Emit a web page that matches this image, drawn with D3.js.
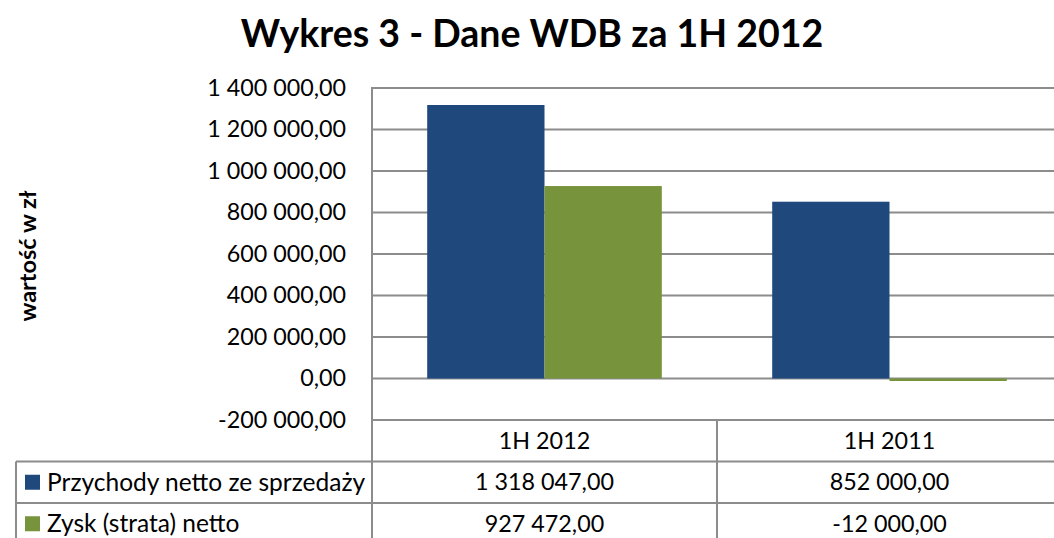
<!DOCTYPE html>
<html><head><meta charset="utf-8">
<script src="https://cdn.jsdelivr.net/npm/d3@7"></script>
<style>
html,body{margin:0;padding:0;background:#fff;}
svg{display:block;font-family:Lato, "Open Sans", sans-serif;}
</style></head>
<body>
<svg id="c" width="1054" height="538"></svg>
<script>
const categories = ["1H 2012", "1H 2011"];
const seriesNames = ["Przychody netto ze sprzedaży", "Zysk (strata) netto"];
const przychody = [1318047, 852000];
const zysk = [927472, -12000];
const yTicks = [-200000, 0, 200000, 400000, 600000, 800000, 1000000, 1200000, 1400000];
const colors = ["#1F497D", "#77933C"];
const chartTitle = "Wykres 3 - Dane WDB za 1H 2012";
const yTitle = "wartość w zł";

(function () {
const series = [przychody, zysk];
const svg = d3.select("#c");
const W = 1054, H = 538;
const pLeft = 372, pRight = 1062, pTop = 88, pBottom = 420;
const rowH = 41.5;
const tableLeft = 16;
const fs = 23.3;

const fmt = v => {
  const s = Math.abs(v).toFixed(2).split(".");
  const intPart = s[0].replace(/\B(?=(\d{3})+(?!\d))/g, " ");
  return (v < 0 ? "-" : "") + intPart + "," + s[1];
};

const y = d3.scaleLinear().domain([-200000, 1400000]).range([pBottom, pTop]);
const x = d3.scaleBand().domain(categories).range([pLeft, pRight]).paddingInner(0.32).paddingOuter(0.16);
const xs = d3.scaleBand().domain(d3.range(series.length)).range([0, x.bandwidth()]);

const grid = "#8c8c8c";

svg.append("g").selectAll("line").data(yTicks).join("line")
  .attr("x1", pLeft).attr("x2", W).attr("y1", d => y(d)).attr("y2", d => y(d))
  .attr("stroke", grid).attr("stroke-width", 2);

const yAxis = d3.axisLeft(y).tickValues(yTicks).tickFormat(fmt).tickSize(0).tickPadding(26);
const ga = svg.append("g").attr("transform", `translate(${pLeft},0)`).call(yAxis);
ga.select(".domain").remove();
ga.selectAll("text").attr("font-size", fs).attr("fill", "#000").attr("font-family", "Lato, 'Open Sans', sans-serif");

categories.forEach((c, ci) => {
  series.forEach((s, si) => {
    const v = s[ci];
    svg.append("rect")
      .attr("x", x(c) + xs(si))
      .attr("width", xs.bandwidth())
      .attr("y", y(Math.max(0, v)))
      .attr("height", Math.max(Math.abs(y(v) - y(0)), 1))
      .attr("fill", colors[si]);
  });
});

svg.append("line").attr("x1", pLeft).attr("x2", pLeft).attr("y1", pTop - 1).attr("y2", H)
  .attr("stroke", grid).attr("stroke-width", 2);

const tTop = pBottom;
const rows = [tTop + rowH, tTop + 2 * rowH];
svg.append("line").attr("x1", pLeft).attr("x2", W).attr("y1", tTop).attr("y2", tTop).attr("stroke", grid).attr("stroke-width", 2);
rows.forEach(r => {
  svg.append("line").attr("x1", tableLeft).attr("x2", W).attr("y1", r).attr("y2", r).attr("stroke", grid).attr("stroke-width", 2);
});
svg.append("line").attr("x1", tableLeft).attr("x2", tableLeft).attr("y1", rows[0]).attr("y2", H).attr("stroke", grid).attr("stroke-width", 2);
categories.forEach((c, ci) => {
  if (ci > 0) {
    const xx = x(c) - x.step() * x.paddingInner() / 2;
    svg.append("line").attr("x1", xx).attr("x2", xx).attr("y1", tTop).attr("y2", H).attr("stroke", grid).attr("stroke-width", 2);
  }
});

const cellCenter = c => x(c) + x.bandwidth() / 2;
svg.append("g").selectAll("text").data(categories).join("text")
  .attr("x", d => cellCenter(d)).attr("y", tTop + rowH / 2).attr("dy", "0.35em")
  .attr("text-anchor", "middle").attr("font-size", fs).text(d => d);

series.forEach((s, si) => {
  const cy = tTop + rowH * (si + 1) + rowH / 2;
  svg.append("rect").attr("x", 25).attr("y", cy - 7.5).attr("width", 15).attr("height", 15).attr("fill", colors[si]);
  svg.append("text").attr("x", 47).attr("y", cy).attr("dy", "0.35em").attr("font-size", 24.5).text(seriesNames[si]);
  svg.append("g").selectAll("text").data(categories).join("text")
    .attr("x", d => cellCenter(d)).attr("y", cy).attr("dy", "0.35em")
    .attr("text-anchor", "middle").attr("font-size", fs).text((d, ci) => fmt(s[ci]));
});

svg.append("text").attr("x", 532).attr("y", 47).attr("text-anchor", "middle")
  .attr("font-size", 37.5).attr("font-weight", "bold").text(chartTitle);

svg.append("text").attr("transform", "translate(36,256) rotate(-90)")
  .attr("text-anchor", "middle").attr("font-size", 23.5).attr("font-weight", "bold").text(yTitle);
})();
</script>
</body></html>
